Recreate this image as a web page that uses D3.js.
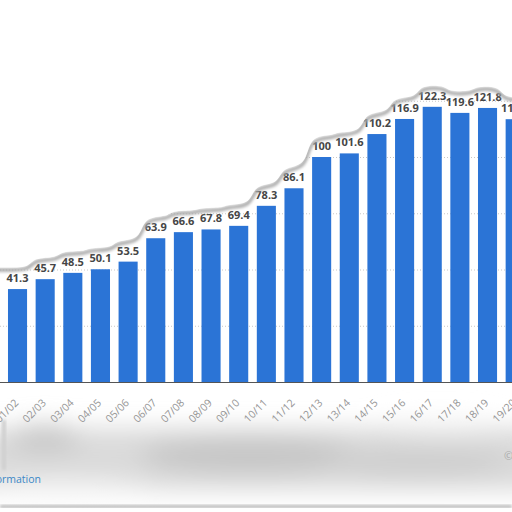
<!DOCTYPE html>
<html>
<head>
<meta charset="utf-8">
<script src="https://cdn.jsdelivr.net/npm/d3@7"></script>
<style>
    html, body { margin: 0; padding: 0; background: #fff; }
    svg { display: block; }
</style>
</head>
<body>
<div id="chart"></div>
<script>
// seasons shown on the x axis
const seasons = ['01/02', '02/03', '03/04', '04/05', '05/06', '06/07', '07/08', '08/09', '09/10',
    '10/11', '11/12', '12/13', '13/14', '14/15', '15/16', '16/17', '17/18', '18/19', '19/20'];

// value per season
const values = [41.3, 45.7, 48.5, 50.1, 53.5, 63.9, 66.6, 67.8, 69.4,
    78.3, 86.1, 100, 101.6, 110.2, 116.9, 122.3, 119.6, 121.8, 116.8];

// horizontal grid lines
const gridTicks = [25, 50, 75, 100, 125];

const items = seasons.map((x, i) => ({x, y: values[i]}));

const width = 512;
const height = 512;
const baseline = 382;

const svg = d3.select('#chart').append('svg')
    .attr('width', width)
    .attr('height', height);

const defs = svg.append('defs');

defs.append('filter')
    .attr('id', 'soft')
    .attr('x', '-30%').attr('y', '-80%')
    .attr('width', '160%').attr('height', '260%')
    .append('feGaussianBlur')
    .attr('stdDeviation', 12);

defs.append('filter')
    .attr('id', 'edge')
    .append('feGaussianBlur')
    .attr('stdDeviation', 1.8);

/**
 * SCALES
 * */
const xFun = d3.scaleBand()
    .domain(seasons)
    .range([3.7, 529])
    .paddingInner(0.31)
    .paddingOuter(0.155);

const yFun = d3.scaleLinear()
    .domain([0, 125])
    .range([baseline, baseline - 281.25]);

// grid lines
const grid = svg.append('g')
    .attr('class', 'grid')
    .call(d3.axisLeft(yFun).tickValues(gridTicks).tickSize(-width).tickFormat(''));
grid.select('.domain').remove();
grid.selectAll('line')
    .attr('stroke', '#c8c8c8')
    .attr('stroke-dasharray', '1,2');

// bars
svg.append('g')
    .selectAll('rect')
    .data(items)
    .join('rect')
    .attr('x', d => xFun(d.x))
    .attr('y', d => yFun(d.y))
    .attr('width', xFun.bandwidth())
    .attr('height', d => yFun(0) - yFun(d.y))
    .attr('fill', '#2b74d6');

// value labels
svg.append('g')
    .selectAll('text')
    .data(items)
    .join('text')
    .attr('x', d => xFun(d.x) + xFun.bandwidth() / 2)
    .attr('y', d => yFun(d.y) - 7)
    .attr('text-anchor', 'middle')
    .attr('font-family', 'Open Sans')
    .attr('font-weight', 'bold')
    .attr('font-size', 11)
    .attr('fill', '#454545')
    .text(d => d.y);

/**
 * BLURRED LOWER AREA
 * */
const blur = svg.append('g').attr('filter', 'url(#soft)');
blur.append('rect')
    .attr('x', -30).attr('y', 428)
    .attr('width', width + 60).attr('height', 62)
    .attr('fill', '#dadada');
blur.append('ellipse')
    .attr('cx', 250).attr('cy', 455)
    .attr('rx', 110).attr('ry', 18)
    .attr('fill', '#c6c6c6');
blur.append('ellipse')
    .attr('cx', 45).attr('cy', 438)
    .attr('rx', 35).attr('ry', 14)
    .attr('fill', '#c8c8c8');
blur.append('ellipse')
    .attr('cx', 420).attr('cy', 462)
    .attr('rx', 90).attr('ry', 16)
    .attr('fill', '#cfcfcf');
blur.append('ellipse')
    .attr('cx', 440).attr('cy', 426)
    .attr('rx', 60).attr('ry', 8)
    .attr('fill', '#f4f4f4');
blur.append('ellipse')
    .attr('cx', 60).attr('cy', 490)
    .attr('rx', 90).attr('ry', 10)
    .attr('fill', '#f6f6f6');

// thin left strip
svg.append('rect')
    .attr('x', 2).attr('y', 420)
    .attr('width', 4).attr('height', 50)
    .attr('fill', '#d0d0d0')
    .attr('filter', 'url(#edge)');

svg.append('rect')
    .attr('x', 0).attr('y', 505)
    .attr('width', width).attr('height', 3)
    .attr('fill', '#b8b8b8')
    .attr('filter', 'url(#edge)');
svg.append('rect')
    .attr('x', 0).attr('y', 508)
    .attr('width', width).attr('height', 4)
    .attr('fill', '#fff');

// x axis
const xAxis = svg.append('g')
    .attr('transform', `translate(0, ${baseline})`)
    .call(d3.axisBottom(xFun).tickSize(0).tickPadding(0));
xAxis.select('.domain')
    .attr('stroke', '#555')
    .attr('d', `M0,0.5H${width}`);
xAxis.selectAll('text')
    .attr('font-family', 'Open Sans')
    .attr('font-size', 10.5)
    .attr('fill', '#959595')
    .attr('text-anchor', 'end')
    .attr('dy', '0.35em')
    .attr('transform', 'translate(-1, 19) rotate(-45)');

/**
 * TORN PAPER EDGE (above the labels)
 * */
const edgePoints = [];
items.forEach((d) => {
    const top = yFun(d.y) - 18;
    edgePoints.push([xFun(d.x) - 3, top]);
    edgePoints.push([xFun(d.x) + xFun.bandwidth() + 3, top]);
});
const edgeLine = d3.line().curve(d3.curveBasis);
const edgePath = edgeLine([[-20, edgePoints[0][1]], ...edgePoints, [width + 30, edgePoints[edgePoints.length - 1][1]]]);

svg.append('path')
    .attr('d', edgePath)
    .attr('fill', 'none')
    .attr('stroke', '#a8a8a8')
    .attr('stroke-width', 3.5)
    .attr('transform', 'translate(0, -1)')
    .attr('filter', 'url(#edge)');

svg.append('path')
    .attr('d', `${edgePath}L${width + 30},-10L-20,-10Z`)
    .attr('transform', 'translate(0, -3.5)')
    .attr('fill', '#fff');

svg.append('text')
    .attr('x', 41)
    .attr('y', 483)
    .attr('text-anchor', 'end')
    .attr('font-family', 'Open Sans')
    .attr('font-size', 10.5)
    .attr('fill', '#3b87c6')
    .text('Additional Information');

svg.append('text')
    .attr('x', 504)
    .attr('y', 460)
    .attr('font-family', 'Open Sans')
    .attr('font-size', 11)
    .attr('fill', '#aaa')
    .text('©');
</script>
</body>
</html>
